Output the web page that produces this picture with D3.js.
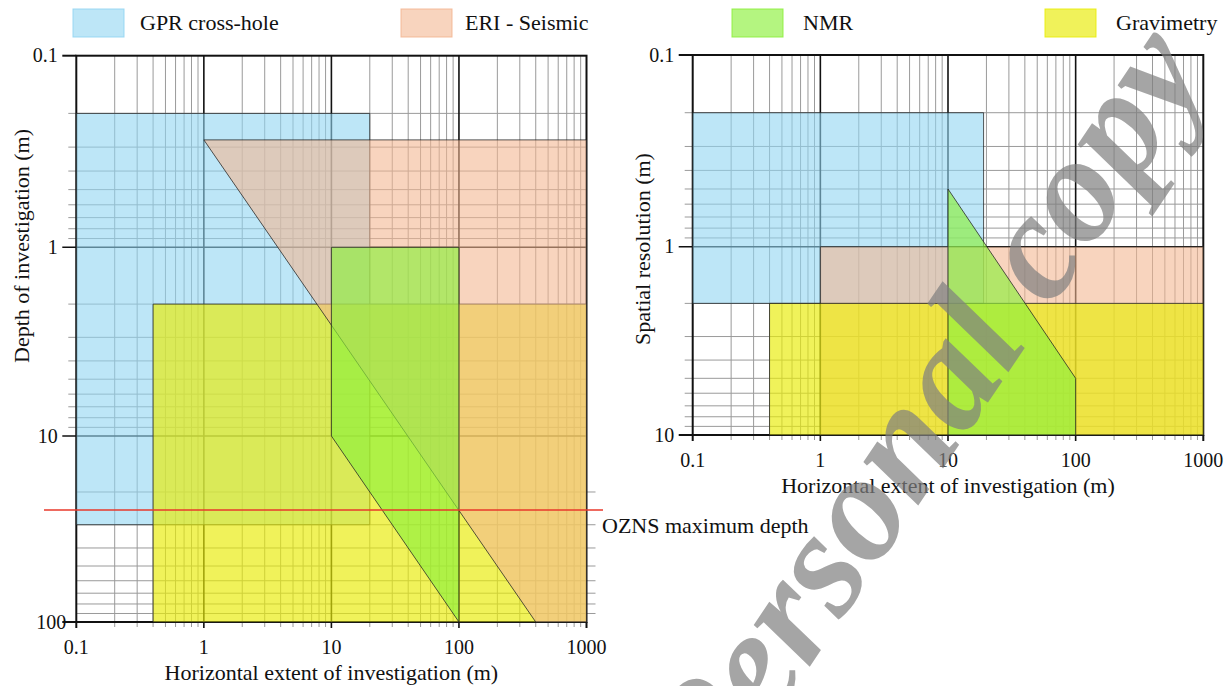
<!DOCTYPE html>
<html><head><meta charset="utf-8">
<script src="https://cdn.jsdelivr.net/npm/d3@7"></script>
<style>
body{margin:0;background:#fff}
svg{display:block}
text{font-family:"Liberation Serif","Times New Roman",serif;fill:#111}
</style>
</head><body>
<svg id="chart" width="1230" height="686"></svg>
<script>
// ---------------- data ----------------
const methods = ["GPR cross-hole", "ERI - Seismic", "NMR", "Gravimetry"];
const methodColors = ["#91d5f2", "#f3b691", "#8cf03c", "#e9ec09"];
const methodOpacity = [0.6, 0.59, 0.65, 0.67];

const xTickValues = [0.1, 1, 10, 100, 1000];
const xTickLabels = ["0.1", "1", "10", "100", "1000"];
const depthTickValues = [0.1, 1, 10, 100];
const depthTickLabels = ["0.1", "1", "10", "100"];
const resTickValues = [0.1, 1, 10];
const resTickLabels = ["0.1", "1", "10"];

// Left panel: [horizontal extent (m), depth of investigation (m)]
const depthGPR  = [[0.1, 0.2], [20, 0.2], [20, 30], [0.1, 30]];
const depthERI  = [[1, 0.275], [1000, 0.275], [1000, 100], [400, 100]];
const depthNMR  = [[10, 1], [100, 1], [100, 100], [10, 10]];
const depthGrav = [[0.4, 2], [1000, 2], [1000, 100], [0.4, 100]];
const ozansDepth = 25;
const ozansLabel = "OZNS maximum depth";

// Right panel: [horizontal extent (m), spatial resolution (m)]
const resGPR  = [[0.1, 0.2], [19, 0.2], [19, 2], [0.1, 2]];
const resERI  = [[1, 1], [1000, 1], [1000, 10], [1, 10]];
const resNMR  = [[10, 0.5], [100, 5], [100, 10], [10, 10]];
const resGrav = [[0.4, 2], [1000, 2], [1000, 10], [0.4, 10]];

const xTitle = "Horizontal extent of investigation (m)";
const depthTitle = "Depth of investigation (m)";
const resTitle = "Spatial resolution (m)";
const watermark = "Personal copy";

// ---------------- drawing ----------------
const svg = d3.select("#chart");

function minorsBetween(lo, hi) {
  const out = [];
  for (let e = Math.round(Math.log10(lo)); e < Math.round(Math.log10(hi)); e++) {
    for (let k = 2; k <= 9; k++) out.push(k * Math.pow(10, e));
  }
  return out;
}

function panel(opts) {
  const {sx, sy, xTicks, yTicks, yLabels, layers, rightTickDecade} = opts;
  const g = svg.append("g");
  const [x0, x1] = sx.range();
  const yd = sy.domain();
  const y0 = sy(yd[0]), y1 = sy(yd[yd.length - 1]);

  const grid = g.append("g");
  grid.selectAll(".vmin").data(minorsBetween(0.1, 1000)).join("line")
    .attr("x1", d => sx(d)).attr("x2", d => sx(d))
    .attr("y1", y0).attr("y2", y1 + 5)
    .attr("stroke", "#9a9a9a").attr("stroke-width", 1);
  grid.selectAll(".hmin").data(minorsBetween(yd[0], yd[yd.length - 1])).join("line")
    .attr("x1", d => (rightTickDecade && d > rightTickDecade) ? x0 : x0 - 8)
    .attr("x2", d => (rightTickDecade && d > rightTickDecade) ? x1 + 9 : x1)
    .attr("y1", d => sy(d)).attr("y2", d => sy(d))
    .attr("stroke", "#9a9a9a").attr("stroke-width", 1);
  grid.selectAll(".vmaj").data(xTicks.slice(1, -1)).join("line")
    .attr("x1", d => sx(d)).attr("x2", d => sx(d))
    .attr("y1", y0).attr("y2", y1 + 6)
    .attr("stroke", "#111").attr("stroke-width", 1.6);
  grid.selectAll(".hmaj").data(yTicks.slice(1, -1)).join("line")
    .attr("x1", x0 - 14).attr("x2", x1)
    .attr("y1", d => sy(d)).attr("y2", d => sy(d))
    .attr("stroke", "#111").attr("stroke-width", 1.6);
  grid.append("rect").attr("x", x0).attr("y", y0).attr("width", x1 - x0).attr("height", y1 - y0)
    .attr("fill", "none").attr("stroke", "#111").attr("stroke-width", 2);
  grid.selectAll(".ytEnd").data([yTicks[0], yTicks[yTicks.length - 1]]).join("line")
    .attr("x1", x0 - 14).attr("x2", x0).attr("y1", d => sy(d)).attr("y2", d => sy(d))
    .attr("stroke", "#111").attr("stroke-width", 2);
  grid.selectAll(".xtEnd").data([xTicks[0], xTicks[xTicks.length - 1]]).join("line")
    .attr("x1", d => sx(d)).attr("x2", d => sx(d)).attr("y1", y1).attr("y2", y1 + 6)
    .attr("stroke", "#111").attr("stroke-width", 2);

  const line = d3.line().x(d => sx(d[0])).y(d => sy(d[1])).curve(d3.curveLinearClosed);
  layers.forEach(([pts, i]) => {
    g.append("path").attr("d", line(pts))
      .attr("fill", methodColors[i]).attr("fill-opacity", methodOpacity[i])
      .attr("stroke", "#222").attr("stroke-opacity", 0.85).attr("stroke-width", 0.9);
  });

  g.selectAll(".xl").data(xTicks).join("text")
    .attr("x", d => sx(d)).attr("y", y1 + 31.5)
    .attr("text-anchor", "middle").attr("font-size", 20)
    .text((d, i) => xTickLabels[i]);
  g.selectAll(".yl").data(yTicks).join("text")
    .attr("x", (d, i) => (opts.lastLabelShift && i === yTicks.length - 1) ? x0 - 10 : x0 - 18.5)
    .attr("y", d => sy(d)).attr("dy", "0.33em")
    .attr("text-anchor", "end").attr("font-size", 20)
    .text((d, i) => yLabels[i]);

  g.append("text").attr("x", (x0 + x1) / 2).attr("y", y1 + 58)
    .attr("text-anchor", "middle").attr("font-size", 22).text(xTitle);
  g.append("text")
    .attr("transform", `translate(${opts.yTitleX},${opts.yTitleY}) rotate(-90)`)
    .attr("text-anchor", "middle").attr("font-size", 22).text(opts.yTitle);
  return g;
}

// Left panel
const lx = d3.scaleLog().domain([0.1, 1000]).range([76.3, 586.5]);
const ly = d3.scaleLog().domain(depthTickValues).range([55.7, 247.3, 436, 622]);
const left = panel({
  sx: lx, sy: ly, xTicks: xTickValues, yTicks: depthTickValues, yLabels: depthTickLabels,
  layers: [[depthGPR, 0], [depthGrav, 3], [depthERI, 1], [depthNMR, 2]],
  rightTickDecade: 10, lastLabelShift: true,
  yTitle: depthTitle, yTitleX: 29, yTitleY: 246
});
left.append("line")
  .attr("x1", 44).attr("x2", 603)
  .attr("y1", ly(ozansDepth)).attr("y2", ly(ozansDepth))
  .attr("stroke", "#e8392b").attr("stroke-width", 1.6);
left.append("text").attr("x", 602).attr("y", ly(ozansDepth) + 23)
  .attr("font-size", 22).text(ozansLabel);

// Right panel
const rx = d3.scaleLog().domain([0.1, 1000]).range([692.7, 1203.3]);
const ry = d3.scaleLog().domain(resTickValues).range([55, 246.7, 435]);
panel({
  sx: rx, sy: ry, xTicks: xTickValues, yTicks: resTickValues, yLabels: resTickLabels,
  layers: [[resGPR, 0], [resERI, 1], [resGrav, 3], [resNMR, 2]],
  yTitle: resTitle, yTitleX: 650, yTitleY: 249
});

// Legend
const lg = svg.append("g").selectAll("g").data(methods).join("g")
  .attr("transform", (d, i) => `translate(${[73, 401, 732, 1045][i]},0)`);
lg.append("rect").attr("x", 0).attr("y", 9).attr("width", 51).attr("height", 28)
  .attr("fill", (d, i) => methodColors[i]).attr("fill-opacity", (d, i) => methodOpacity[i])
  .attr("stroke", (d, i) => methodColors[i]).attr("stroke-opacity", 0.9);
lg.append("text").attr("x", (d, i) => [67, 64, 71, 71][i]).attr("y", 30)
  .attr("font-size", 22).text(d => d);

// Watermark
const rot = -56;
const ang = rot * Math.PI / 180;
const dir = [Math.cos(ang), Math.sin(ang)];
const wm = svg.append("text").attr("font-size", 152).attr("font-weight", "bold")
  .attr("font-style", "italic").style("fill", "#808080").attr("opacity", 0.7)
  .text("Personal ");
const wPre = wm.node().getComputedTextLength();
wm.text(watermark);
const cStart = [1030, 340];
const sxw = cStart[0] - wPre * dir[0], syw = cStart[1] - wPre * dir[1];
wm.attr("transform", `translate(${sxw},${syw}) rotate(${rot})`);
</script>
</body></html>
